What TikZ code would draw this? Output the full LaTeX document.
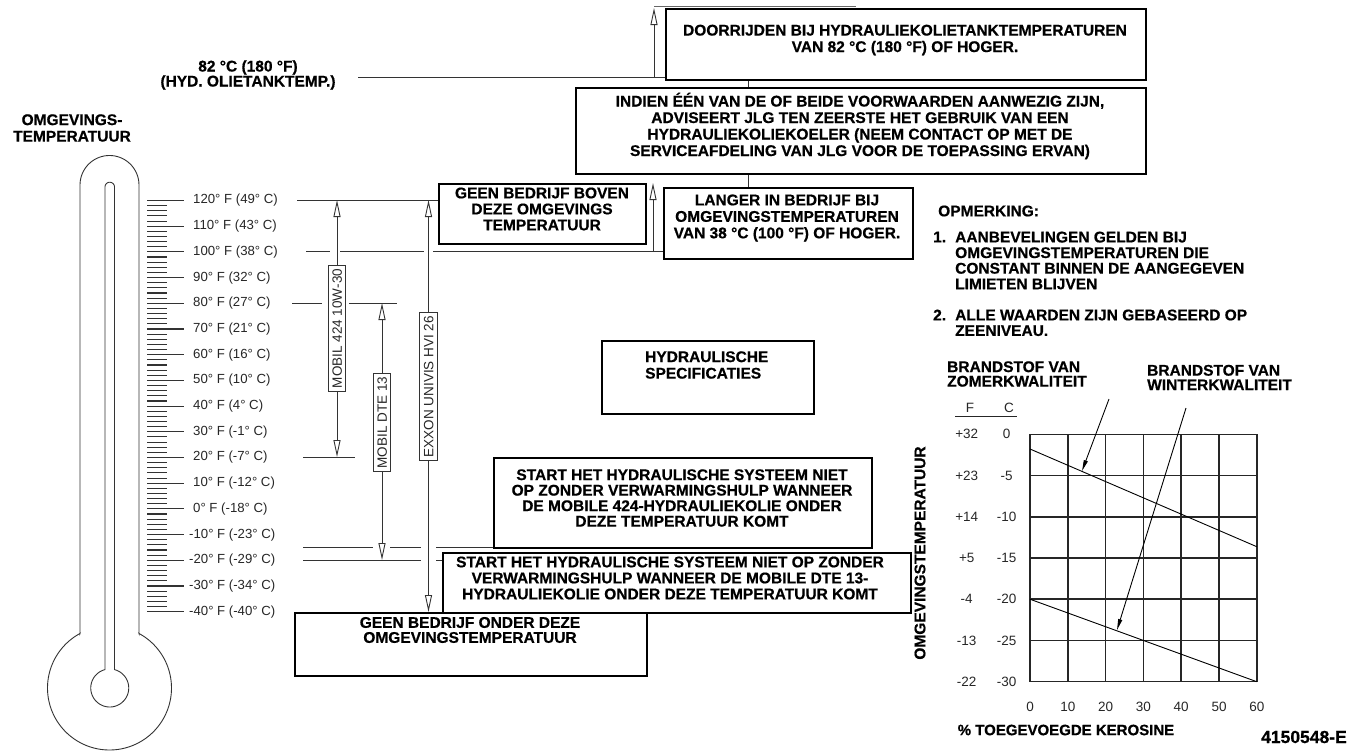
\documentclass[tikz,border=0pt]{standalone}
\usepackage{fontspec}
\setmainfont{Liberation Sans}[BoldFeatures={FakeBold=0.6}]
\usetikzlibrary{arrows.meta}
\begin{document}
\begin{tikzpicture}[x=1pt,y=-1pt,
  boxst/.style={draw=black, line width=2.2pt, inner sep=0pt, anchor=north west},
  btxt/.style={font=\fontsize{15.5}{16.5}\selectfont\bfseries, align=center, inner sep=0pt},
  ltxt/.style={font=\fontsize{13.2}{14}\selectfont, text=black!85, inner sep=0pt},
  gtxt/.style={font=\fontsize{13.5}{14}\selectfont, text=black!85, inner sep=0pt},
  thinln/.style={draw=black!80, line width=0.9pt},
  tickln/.style={draw=black!80, line width=1.1pt},
  oarr/.style={draw=black!80, line width=0.9pt, -{Triangle[open, length=17pt, width=7pt]}},
  farr/.style={draw=black, line width=0.9pt, -{Triangle[length=11pt, width=4pt]}},
  barlbl/.style={draw=black!80, line width=0.9pt, fill=white, rotate=90, font=\fontsize{13.5}{14}\selectfont, text=black!85, inner xsep=3.5pt, inner ysep=4pt, text height=9.7pt, text depth=0pt},
  gridln/.style={draw=black!85, line width=1.5pt},
  curveln/.style={draw=black, line width=0.9pt}
]
\useasboundingbox (0,0) rectangle (1350,753);

% ---------------- thermometer ----------------
\draw[thinln] (80,633.5) -- (80,185)
  -- plot[domain=180:360, samples=40] ({109.5+29.5*cos(\x)},{185+29.5*sin(\x)})
  -- (139,633.5)
  -- plot[domain=-61.6:241.6, samples=140] ({109.5+62*cos(\x)},{688+62*sin(\x)}) -- cycle;
\draw[thinln] (105,669.6) -- (105,187)
  -- plot[domain=180:360, samples=20] ({109.75+4.75*cos(\x)},{187+4.75*sin(\x)})
  -- (114.5,669.6)
  -- plot[domain=-75.5:255.5, samples=90] ({109.75+19*cos(\x)},{688+19*sin(\x)}) -- cycle;

\foreach \k in {0,...,80}{
  \pgfmathsetmacro\yy{200.5+5.14*\k}
  \pgfmathtruncatemacro\mm{mod(\k,5)}
  \ifnum\mm=0 \draw[tickln] (147,\yy) -- (184,\yy); \else \draw[tickln] (147,\yy) -- (167,\yy); \fi
}
\foreach \t [count=\i from 0] in {120° F (49° C),110° F (43° C),100° F (38° C),90° F (32° C),80° F (27° C),70° F (21° C),60° F (16° C),50° F (10° C),40° F (4° C),30° F (-1° C),20° F (-7° C),10° F (-12° C),0° F (-18° C),-10° F (-23° C),-20° F (-29° C),-30° F (-34° C),-40° F (-40° C)}{
  \node[ltxt, anchor=west] (th\i) at ({\i>12 ? 189 : 193},{200.5+25.7*\i}) {\t};
}

\node[btxt] (omg) at (72,128) {OMGEVINGS-\\TEMPERATUUR};
\node[btxt, font=\fontsize{15.5}{15}\selectfont\bfseries] (l82) at (248,75) {82 °C (180 °F)\\(HYD. OLIETANKTEMP.)};

% ---------------- boxes ----------------
\node[boxst, minimum width=480pt, minimum height=71pt] (doorr) at (665,8) {};
\node[boxst, minimum width=570pt, minimum height=86pt] (indien) at (575,87) {};
\node[boxst, minimum width=249pt, minimum height=71pt] (langer) at (663,187) {};
\node[boxst, minimum width=207pt, minimum height=60pt] (geenb) at (438,183) {};
\node[boxst, minimum width=212pt, minimum height=73pt] (hydr) at (601,340) {};
\node[boxst, minimum width=378pt, minimum height=90pt] (start1) at (493,457) {};
\node[boxst, minimum width=468pt, minimum height=60pt] (start2) at (442,552) {};
\node[boxst, minimum width=352pt, minimum height=63pt] (geeno) at (294,612) {};

\node[btxt] (doorrT) at (905,40) {DOORRIJDEN BIJ HYDRAULIEKOLIETANKTEMPERATUREN\\VAN 82 °C (180 °F) OF HOGER.};
\node[btxt] (indienT) at (860,126) {INDIEN ÉÉN VAN DE OF BEIDE VOORWAARDEN AANWEZIG ZIJN,\\ADVISEERT JLG TEN ZEERSTE HET GEBRUIK VAN EEN\\HYDRAULIEKOLIEKOELER (NEEM CONTACT OP MET DE\\SERVICEAFDELING VAN JLG VOOR DE TOEPASSING ERVAN)};
\node[btxt] (langerT) at (787,218) {LANGER IN BEDRIJF BIJ\\OMGEVINGSTEMPERATUREN\\VAN 38 °C (100 °F) OF HOGER.};
\node[btxt, font=\fontsize{15.5}{16}\selectfont\bfseries] (geenbT) at (542,209) {GEEN BEDRIJF BOVEN\\DEZE OMGEVINGS\\TEMPERATUUR};
\node[btxt, align=left, anchor=west] (hydrT) at (645,365) {HYDRAULISCHE\\SPECIFICATIES};
\node[btxt, font=\fontsize{15.5}{15.5}\selectfont\bfseries] (start1T) at (682,498) {START HET HYDRAULISCHE SYSTEEM NIET\\OP ZONDER VERWARMINGSHULP WANNEER\\DE MOBILE 424-HYDRAULIEKOLIE ONDER\\DEZE TEMPERATUUR KOMT};
\node[btxt, font=\fontsize{15.5}{16}\selectfont\bfseries] (start2T) at (670,578) {START HET HYDRAULISCHE SYSTEEM NIET OP ZONDER\\VERWARMINGSHULP WANNEER DE MOBILE DTE 13-\\HYDRAULIEKOLIE ONDER DEZE TEMPERATUUR KOMT};
\node[btxt, font=\fontsize{15.5}{15}\selectfont\bfseries] (geenoT) at (470,630) {GEEN BEDRIJF ONDER DEZE\\OMGEVINGSTEMPERATUUR};

% notes
\node[btxt, anchor=west] (opm) at (938,211) {OPMERKING:};
\node[btxt, anchor=west] (n1num) at (933,237) {1.};
\node[btxt, anchor=west, align=left, font=\fontsize{15.5}{15.6}\selectfont\bfseries] (n1) at (955,260.5) {AANBEVELINGEN GELDEN BIJ\\OMGEVINGSTEMPERATUREN DIE\\CONSTANT BINNEN DE AANGEGEVEN\\LIMIETEN BLIJVEN};
\node[btxt, anchor=west] (n2num) at (933,315) {2.};
\node[btxt, anchor=west, align=left, font=\fontsize{15.5}{15.6}\selectfont\bfseries] (n2) at (955,322.8) {ALLE WAARDEN ZIJN GEBASEERD OP\\ZEENIVEAU.};

% ---------------- connectors top ----------------
\coordinate (cx) at (748,0);
\draw[thinln] (doorr.south -| cx) -- (indien.north -| cx);
\draw[thinln] (indien.south -| cx) -- (langer.north -| cx);
\coordinate (c82) at (358,77);
\draw[thinln] (c82) -- (c82 -| doorr.west);
\coordinate (a82b) at (654,77);
\coordinate (a82t) at (654,8);
\draw[oarr] (a82b) -- (a82t);
\draw[draw=black!60, line width=0.8pt] (654,6) -- (856,6);
\coordinate (a100b) at (653,251);
\coordinate (a100t) at (653,183);
\draw[oarr] (a100b) -- (a100t);

% ---------------- level lines ----------------
\coordinate (l120) at (297,200);
\draw[thinln] (l120) -- (l120 -| geenb.west);
\draw[thinln] (306,251) -- (330,251) (340,251) -- (424,251) (433,251) -- (663,251);
\draw[thinln] (292,303) -- (322,303) (349,303) -- (397,303);
\draw[thinln] (303,457) -- (355,457);
\draw[thinln] (303,547) -- (373,547) (390,547) -- (421,547) (436,547) -- (493,547);
\draw[thinln] (303,560) -- (421,560) (436,560) -- (442,560);

% ---------------- oil bars ----------------
\node[barlbl] (m424) at (337,328.5) {MOBIL 424 10W-30};
\node[barlbl] (dte) at (382,422.5) {MOBIL DTE 13};
\node[barlbl] (exx) at (428.5,386.5) {EXXON UNIVIS HVI 26};
\coordinate (m424t) at (337,200);
\coordinate (m424b) at (337,457);
\coordinate (dtet) at (382,303);
\coordinate (dteb) at (382,560);
\coordinate (exxt) at (428.5,200);
\coordinate (exxb) at (428.5,612);
\draw[oarr] (m424.east) -- (m424t);
\draw[oarr] (m424.west) -- (m424b);
\draw[oarr] (dte.east) -- (dtet);
\draw[oarr] (dte.west) -- (dteb);
\draw[oarr] (exx.east) -- (exxt);
\draw[oarr] (exx.west) -- (exxb);

% ---------------- graph ----------------
\foreach \i in {0,...,6}{
  \draw[gridln] ({1030+37.8*\i},434.3) -- ({1030+37.8*\i},681.7);
  \draw[gridln] (1030,{434.3+41.23*\i}) -- (1256.8,{434.3+41.23*\i});
}
\coordinate (s0) at (1030,449);
\coordinate (s1) at (1256.8,546.7);
\coordinate (w0) at (1030,599.2);
\coordinate (w1) at (1256.8,681.7);
\draw[curveln] (s0) -- (s1);
\draw[curveln] (w0) -- (w1);
\coordinate (sa0) at (1109,399);
\coordinate (sa1) at (1082,471);
\coordinate (wa0) at (1186,408);
\coordinate (wa1) at (1117,630);
\draw[farr] (sa0) -- (sa1);
\draw[farr] (wa0) -- (wa1);

\foreach \f [count=\j from 0] in {+32,+23,+14,+5,-4,-13,-22}{
  \node[gtxt] (gf\j) at (966.7,{434.3+41.23*\j}) {\f};
}
\foreach \c [count=\j from 0] in {0,-5,-10,-15,-20,-25,-30}{
  \node[gtxt] (gc\j) at (1006.7,{434.3+41.23*\j}) {\c};
}
\foreach \p [count=\j from 0] in {0,10,20,30,40,50,60}{
  \node[gtxt] (gx\j) at ({1030+37.8*\j},706.7) {\p};
}
\node[gtxt] (hF) at (970,408.3) {F};
\node[gtxt] (hC) at (1009,408.3) {C};
\coordinate (ul0) at (955,416.7);
\coordinate (ul1) at (1016.7,416.7);
\draw[draw=black!85, line width=0.9pt] (ul0) -- (ul1);

\node[btxt, align=left, anchor=west, font=\fontsize{15.5}{14.5}\selectfont\bfseries] (zomer) at (947,374) {BRANDSTOF VAN\\ZOMERKWALITEIT};
\node[btxt, align=left, anchor=west, font=\fontsize{15.5}{14.5}\selectfont\bfseries] (winter) at (1147,377.5) {BRANDSTOF VAN\\WINTERKWALITEIT};
\node[btxt, font=\fontsize{15}{16}\selectfont\bfseries] (xlab) at (1066,730) {\% TOEGEVOEGDE KEROSINE};
\node[btxt, rotate=90] (ylab) at (920,553) {OMGEVINGSTEMPERATUUR};
\node[btxt, anchor=east, font=\fontsize{17.5}{18}\selectfont\bfseries] (code) at (1347,737) {4150548-E};
\end{tikzpicture}
\end{document}
